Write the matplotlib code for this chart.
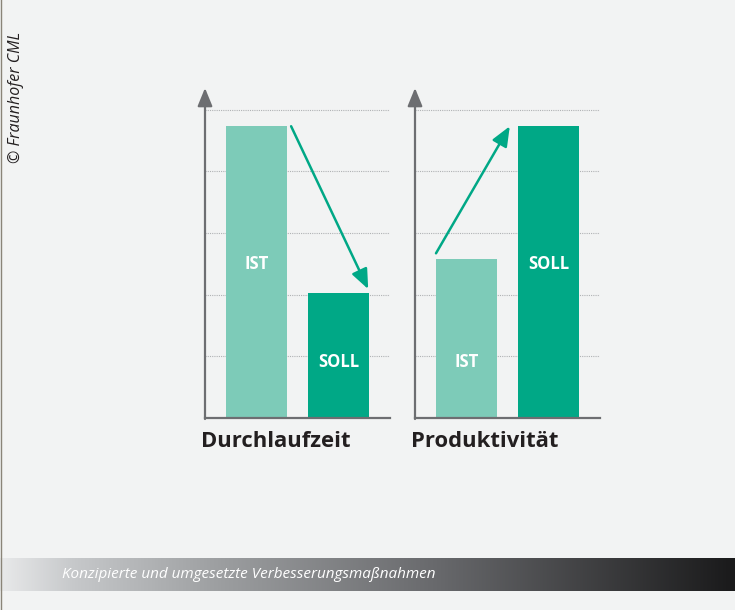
import matplotlib
matplotlib.use("Agg")
import matplotlib.pyplot as plt
import numpy as np
from matplotlib.colors import LinearSegmentedColormap

# data (units = grid steps)
groups = ["Durchlaufzeit", "Produktivität"]
bar_names = ["IST", "SOLL"]
ist_vals = [4.73, 2.58]
soll_vals = [2.03, 4.73]
label_levels = [[2.5, 0.9], [0.9, 2.5]]
copyright_txt = "© Fraunhofer CML"
caption = "Konzipierte und umgesetzte Verbesserungsmaßnahmen"

BG = "#f2f3f3"
AXC = "#6d6e71"
C_IST = "#7dcbb8"
C_SOLL = "#00a886"
W = 0.744

plt.rcParams['font.family'] = ['Open Sans', 'DejaVu Sans']

fig = plt.figure(figsize=(7.35, 6.1), dpi=100, facecolor=BG)

ax_l = fig.add_axes([205/735, (610-418)/610, 185/735, 330/610])
ax_r = fig.add_axes([415/735, (610-418)/610, 185/735, 330/610])

for i, ax in enumerate([ax_l, ax_r]):
    ax.set_facecolor(BG)
    vals = [ist_vals[i], soll_vals[i]]
    ax.set_xlim(-0.628, 1.628)
    ax.set_ylim(0, 5.35)
    for lv in range(1, 6):
        ax.axhline(lv, color="#b0b2b4", lw=0.8, ls=(0, (1, 1)), zorder=0)
    ax.bar([0, 1], vals, width=W, color=[C_IST, C_SOLL], zorder=2)
    for j in range(2):
        ax.text(j, label_levels[i][j], bar_names[j], color="white", fontsize=12,
                fontweight="bold", ha="center", va="center", zorder=3)
    for s in ["top", "right", "left"]:
        ax.spines[s].set_visible(False)
    ax.spines["bottom"].set_color(AXC)
    ax.spines["bottom"].set_linewidth(1.6)
    ax.set_xticks([])
    ax.set_yticks([])
    # y axis with arrow head
    ax.annotate("", xy=(0, 1.0), xytext=(0, -0.003), xycoords="axes fraction",
                arrowprops=dict(arrowstyle="-|>,head_length=1.1,head_width=0.45",
                                color=AXC, lw=1.6, shrinkA=0, shrinkB=0,
                                mutation_scale=10), annotation_clip=False)
    ax.text(-0.02, -0.04, groups[i], transform=ax.transAxes, fontsize=15.8,
            fontweight="bold", color="#231f20", ha="left", va="top")

green_arrow = dict(arrowstyle="-|>,head_length=1.2,head_width=0.5", color=C_SOLL,
                   lw=1.8, shrinkA=0, shrinkB=0, mutation_scale=10)
# Durchlaufzeit: IST -> SOLL (down)
ax_l.annotate("", xy=(1 + W/2 - 0.01, soll_vals[0] + 0.06),
              xytext=(W/2 + 0.05, ist_vals[0]), arrowprops=green_arrow, zorder=4)
# Produktivitaet: IST -> SOLL (up)
ax_r.annotate("", xy=(1 - W/2 - 0.1, soll_vals[1]),
              xytext=(-W/2, ist_vals[1] + 0.09), arrowprops=green_arrow, zorder=4)

# copyright text
fig.text(16/735, 1 - 97/610, copyright_txt, rotation=90, style="italic",
         fontsize=11.5, color="#231f20", ha="center", va="center")

# gradient band at the bottom
band = fig.add_axes([0, (610-591)/610, 1, 33/610])
cmap = LinearSegmentedColormap.from_list("band", [(0, "#e8e9ea"), (0.1, "#c6c8ca"),
                                                  (0.3, "#9c9ea0"), (0.6, "#67686b"),
                                                  (1.0, "#1a1a1b")])
band.imshow(np.linspace(0, 1, 256)[None, :], aspect="auto", cmap=cmap, extent=[0, 1, 0, 1])
band.set_axis_off()
band.text(62/735, 0.5, caption, transform=band.transAxes, style="italic", fontsize=11,
          color="white", ha="left", va="center")

# thin border at left edge
fig.add_artist(plt.Line2D([0.0007, 0.0007], [0, 1], color="#8a8478", lw=1,
                          transform=fig.transFigure))

fig.savefig("out.png", dpi=100, facecolor=BG)
